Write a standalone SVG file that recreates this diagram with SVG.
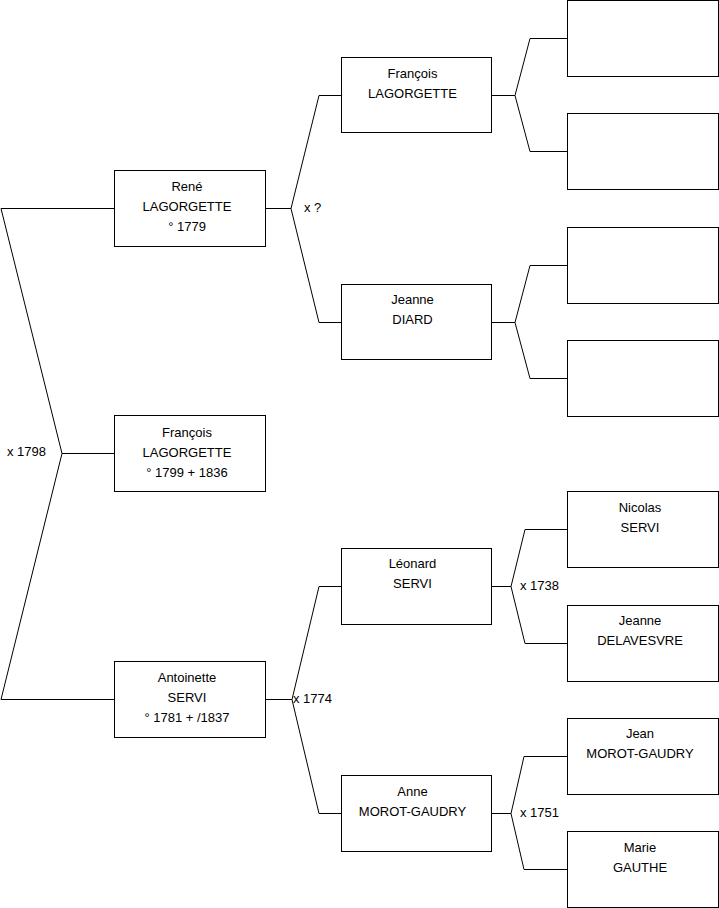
<svg xmlns="http://www.w3.org/2000/svg" width="719" height="908" viewBox="0 0 719 908">
<style>
.box{fill:#fff;stroke:#000;stroke-width:1}
.c{fill:none;stroke:#000;stroke-width:1}
text{font-family:"Liberation Sans",Arial,sans-serif;font-size:13px;fill:#000}
.m{text-anchor:middle}
</style>
<rect width="719" height="908" fill="#fff"/>
<g id="connectors">
<path class="c" d="M1,208.5 H114.5 M1,208.5 L62,453.5 L1,699.5 H114.5 M62,453.5 H114.5"/>
<path class="c" d="M265.5,208.5 H291 M341.5,95.5 H319 L291,208.5 L319,322.5 H341.5"/>
<path class="c" d="M265.5,699.5 H292 M341.5,586.5 H319 L292,699.5 L319,813.5 H341.5"/>
<path class="c" d="M491.5,95.5 H515 M567.5,38.5 H530 L515,95.5 L530,151.5 H567.5"/>
<path class="c" d="M491.5,322.5 H515 M567.5,265.5 H530 L515,322.5 L530,378.5 H567.5"/>
<path class="c" d="M491.5,586.5 H511 M567.5,529.5 H525 L511,586.5 L525,643.5 H567.5"/>
<path class="c" d="M491.5,813.5 H511 M567.5,756.5 H524 L511,813.5 L524,869.5 H567.5"/>
<text x="7" y="456">x 1798</text>
<text x="304" y="212">x ?</text>
<text x="293" y="703">x 1774</text>
<text x="520" y="590">x 1738</text>
<text x="520" y="817">x 1751</text>
</g>
<g id="rene"><rect class="box" x="114.5" y="170.5" width="151" height="76"/>
<text class="m" x="187" y="191">René</text><text class="m" x="187" y="211">LAGORGETTE</text><text class="m" x="187" y="231">° 1779</text></g>
<g id="francois"><rect class="box" x="114.5" y="415.5" width="151" height="76"/>
<text class="m" x="187" y="437">François</text><text class="m" x="187" y="457">LAGORGETTE</text><text class="m" x="187" y="477">° 1799 + 1836</text></g>
<g id="antoinette"><rect class="box" x="114.5" y="661.5" width="151" height="76"/>
<text class="m" x="187" y="682">Antoinette</text><text class="m" x="187" y="702">SERVI</text><text class="m" x="187" y="722">° 1781 + /1837</text></g>
<g id="francois2"><rect class="box" x="341.5" y="57.5" width="150" height="75"/>
<text class="m" x="412.5" y="78">François</text><text class="m" x="412.5" y="98">LAGORGETTE</text></g>
<g id="jeanne"><rect class="box" x="341.5" y="284.5" width="150" height="75"/>
<text class="m" x="412.5" y="304">Jeanne</text><text class="m" x="412.5" y="324">DIARD</text></g>
<g id="leonard"><rect class="box" x="341.5" y="548.5" width="150" height="76"/>
<text class="m" x="412.5" y="568">Léonard</text><text class="m" x="412.5" y="588">SERVI</text></g>
<g id="anne"><rect class="box" x="341.5" y="775.5" width="150" height="76"/>
<text class="m" x="412.5" y="796">Anne</text><text class="m" x="412.5" y="816">MOROT-GAUDRY</text></g>
<g id="p1"><rect class="box" x="567.5" y="0.5" width="151" height="76"/></g>
<g id="p2"><rect class="box" x="567.5" y="113.5" width="151" height="76"/></g>
<g id="p3"><rect class="box" x="567.5" y="227.5" width="151" height="76"/></g>
<g id="p4"><rect class="box" x="567.5" y="340.5" width="151" height="76"/></g>
<g id="nicolas"><rect class="box" x="567.5" y="491.5" width="151" height="76"/>
<text class="m" x="640" y="512">Nicolas</text><text class="m" x="640" y="532">SERVI</text></g>
<g id="jeanne2"><rect class="box" x="567.5" y="605.5" width="151" height="76"/>
<text class="m" x="640" y="625">Jeanne</text><text class="m" x="640" y="645">DELAVESVRE</text></g>
<g id="jean"><rect class="box" x="567.5" y="718.5" width="151" height="76"/>
<text class="m" x="640" y="738">Jean</text><text class="m" x="640" y="758">MOROT-GAUDRY</text></g>
<g id="marie"><rect class="box" x="567.5" y="831.5" width="151" height="76"/>
<text class="m" x="640" y="852">Marie</text><text class="m" x="640" y="872">GAUTHE</text></g>
</svg>
